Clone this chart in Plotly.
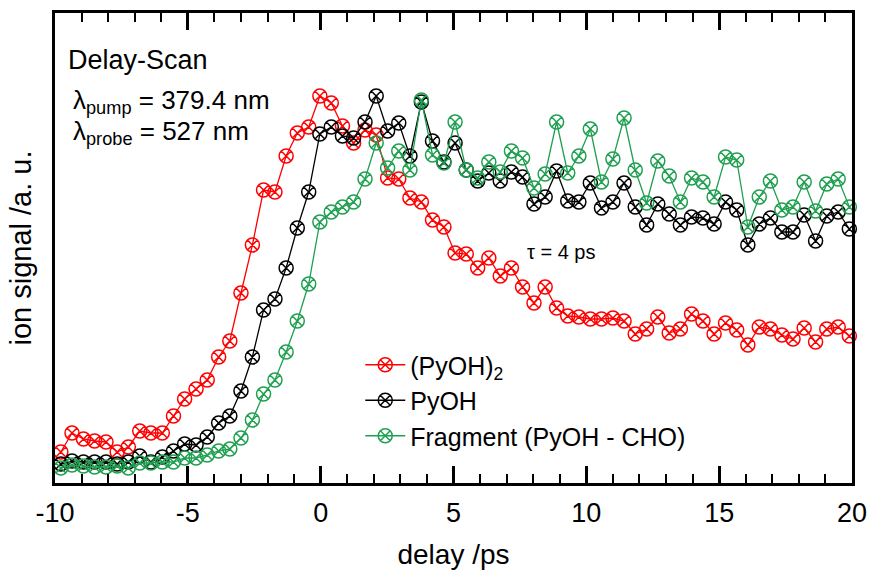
import plotly.graph_objects as go

# delay values (ps)
delay = [-9.78, -9.36, -8.93, -8.51, -8.08, -7.66, -7.24, -6.81, -6.39, -5.96,
         -5.54, -5.12, -4.69, -4.27, -3.84, -3.42, -3.00, -2.57, -2.15, -1.72,
         -1.30, -0.88, -0.45, -0.03, 0.40, 0.82, 1.24, 1.67, 2.09, 2.52,
         2.94, 3.36, 3.79, 4.21, 4.64, 5.06, 5.48, 5.91, 6.33, 6.76,
         7.18, 7.60, 8.03, 8.45, 8.88, 9.30, 9.72, 10.15, 10.57, 11.00,
         11.42, 11.84, 12.27, 12.69, 13.12, 13.54, 13.96, 14.39, 14.81, 15.24,
         15.66, 16.08, 16.51, 16.93, 17.36, 17.78, 18.20, 18.63, 19.05, 19.48,
         19.90]

# (PyOH)2 ion signal (a.u.)
dimer = [0.31, 0.50, 0.44, 0.42, 0.41, 0.31, 0.36, 0.52, 0.50, 0.50,
         0.67, 0.84, 0.94, 1.03, 1.26, 1.42, 1.90, 2.38, 2.93, 2.91,
         3.27, 3.50, 3.56, 3.87, 3.80, 3.57, 3.40, 3.53, 3.48, 3.05,
         3.04, 2.85, 2.81, 2.63, 2.56, 2.30, 2.29, 2.15, 2.25, 2.07,
         2.15, 1.96, 1.80, 1.96, 1.75, 1.67, 1.66, 1.64, 1.64, 1.65,
         1.62, 1.49, 1.54, 1.66, 1.50, 1.54, 1.69, 1.62, 1.49, 1.60,
         1.53, 1.38, 1.56, 1.54, 1.48, 1.44, 1.55, 1.41, 1.54, 1.56,
         1.47]

# PyOH ion signal (a.u.)
monomer = [0.19, 0.22, 0.21, 0.21, 0.21, 0.19, 0.21, 0.27, 0.21, 0.26,
           0.32, 0.39, 0.38, 0.46, 0.60, 0.67, 0.92, 1.26, 1.73, 1.84,
           2.15, 2.55, 2.91, 3.49, 3.56, 3.47, 3.45, 3.61, 3.87, 3.52,
           3.60, 3.27, 3.81, 3.42, 3.21, 3.40, 3.13, 3.02, 3.10, 3.02,
           3.11, 3.06, 2.79, 2.86, 3.12, 2.82, 2.81, 3.00, 2.75, 2.81,
           3.00, 2.76, 2.58, 2.79, 2.69, 2.58, 2.66, 2.65, 2.59, 2.81,
           2.73, 2.38, 2.59, 2.65, 2.51, 2.51, 2.68, 2.42, 2.67, 2.71,
           2.54]

# Fragment (PyOH - CHO) ion signal (a.u.)
fragment = [0.15, 0.18, 0.17, 0.16, 0.16, 0.17, 0.15, 0.20, 0.20, 0.21,
            0.21, 0.25, 0.25, 0.28, 0.32, 0.34, 0.45, 0.63, 0.89, 1.03,
            1.31, 1.62, 1.99, 2.61, 2.71, 2.76, 2.81, 3.04, 3.40, 3.15,
            3.32, 3.13, 3.83, 3.28, 3.20, 3.61, 3.13, 3.05, 3.21, 3.11,
            3.32, 3.25, 2.95, 3.09, 3.61, 3.10, 3.27, 3.54, 3.01, 3.24,
            3.65, 3.13, 2.80, 3.22, 3.07, 2.81, 3.05, 3.01, 2.86, 3.26,
            3.23, 2.56, 2.86, 3.02, 2.73, 2.76, 3.01, 2.72, 2.99, 3.04,
            2.76]

series_names = ["(PyOH)<sub>2</sub>", "PyOH", "Fragment (PyOH - CHO)"]
series_values = [dimer, monomer, fragment]
series_colors = ["#FF0000", "#000000", "#1FA050"]

x_ticks = [-10, -5, 0, 5, 10, 15, 20]
x_ticktext = ["-10", "-5", "0", "5", "10", "15", "20"]

FONT = "Liberation Sans, Arial, sans-serif"

fig = go.Figure()
for name, vals, col in zip(series_names, series_values, series_colors):
    fig.add_trace(go.Scatter(
        x=delay, y=vals, name=name, mode="lines+markers",
        line=dict(color=col, width=1.3),
        marker=dict(symbol="circle-x-open", size=14, color=col,
                    line=dict(color=col, width=1.5)),
        cliponaxis=False,
    ))

fig.update_layout(
    width=869, height=570,
    margin=dict(l=55, r=17, t=13, b=87, autoexpand=False),
    paper_bgcolor="white", plot_bgcolor="white",
    font=dict(family=FONT, size=25, color="black"),
    showlegend=True,
    legend=dict(x=0.383, y=0.30, xanchor="left", yanchor="top",
                bgcolor="rgba(0,0,0,0)", font=dict(size=25),
                tracegroupgap=0, itemwidth=40),
    xaxis=dict(
        range=[-10, 20], tickvals=x_ticks, ticktext=x_ticktext,
        ticks="inside", ticklen=17, tickwidth=2.5, tickcolor="black",
        showline=True, linewidth=3, linecolor="black", mirror="ticks",
        showgrid=False, zeroline=False, automargin=False,
        tickfont=dict(size=27),
        minor=dict(dtick=1, ticks="inside", ticklen=9, tickwidth=2,
                   tickcolor="black", showgrid=False),
        title=dict(text="delay /ps", font=dict(size=28), standoff=19),
        ticklabelstandoff=4,
    ),
    yaxis=dict(
        range=[0, 4.70], showticklabels=False, ticks="",
        showline=True, linewidth=3, linecolor="black", mirror=True,
        showgrid=False, zeroline=False, automargin=False,
        title=dict(text="ion signal /a. u.", font=dict(size=29), standoff=12),
    ),
)

fig.add_annotation(text="Delay-Scan", xref="paper", yref="paper",
                   x=0.014, y=0.90, xanchor="left", yanchor="middle",
                   showarrow=False, font=dict(size=27))
fig.add_annotation(text="λ<sub>pump</sub> = 379.4 nm", xref="paper", yref="paper",
                   x=0.020, y=0.812, xanchor="left", yanchor="middle",
                   showarrow=False, font=dict(size=26))
fig.add_annotation(text="λ<sub>probe</sub> = 527 nm", xref="paper", yref="paper",
                   x=0.020, y=0.745, xanchor="left", yanchor="middle",
                   showarrow=False, font=dict(size=26))
fig.add_annotation(text="τ = 4 ps", xref="paper", yref="paper",
                   x=0.590, y=0.491, xanchor="left", yanchor="middle",
                   showarrow=False, font=dict(size=20))

# place the figure flush with the window corner (no default page margin)
fig.write_html("out.html",
               config={"displayModeBar": False},
               post_script="document.body.style.margin='0px';"
                           "document.body.style.overflow='hidden';")
